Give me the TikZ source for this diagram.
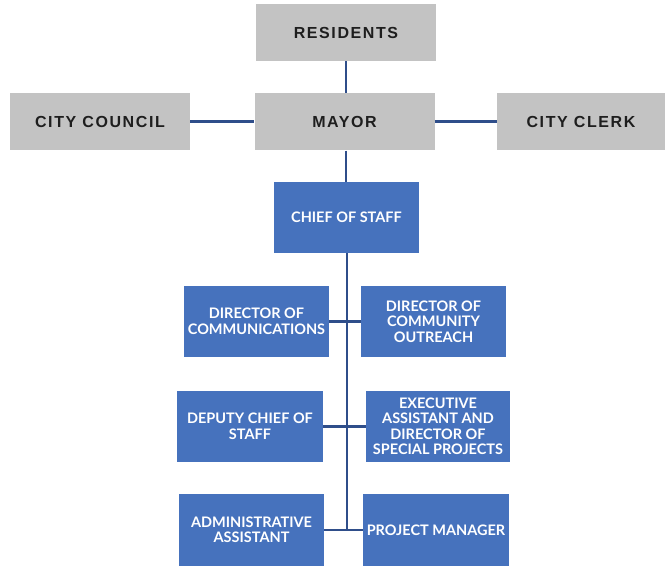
\documentclass[tikz,border=0pt]{standalone}
\usepackage{fontspec}
\setmainfont{Liberation Sans}
\newfontfamily\latofont{Lato}[UprightFont=* Bold]
\newfontfamily\spacedfont{Liberation Sans}[UprightFont=* Bold,LetterSpace=10]
\definecolor{greybox}{HTML}{C3C3C3}
\definecolor{bluebox}{HTML}{4672BD}
\definecolor{linkblue}{HTML}{2F4E8A}
\definecolor{greytext}{HTML}{1E1E1E}
\begin{document}
\begin{tikzpicture}[x=1pt,y=-1pt,
  govbox/.style={fill=greybox,draw=none,minimum height=57pt,inner sep=0pt,
    text=greytext,font=\spacedfont\fontsize{16}{18}\selectfont},
  staffbox/.style={fill=bluebox,draw=none,minimum width=145pt,minimum height=71pt,
    inner sep=0pt,text=white,align=center,font=\latofont\fontsize{14.5}{15.5}\selectfont},
  link/.style={draw=linkblue,line width=2.4pt}]
\useasboundingbox (0,0) rectangle (665,567);

% elected offices
\node[govbox,minimum width=180pt] (res) at (346,32.5) {RESIDENTS};
\node[govbox,minimum width=180pt] (mayor) at (344.5,122) {MAYOR};
\node[govbox,minimum width=180pt] (council) at (100,121.5) {CITY COUNCIL};
\node[govbox,minimum width=168pt] (clerk) at (581,121.5) {CITY CLERK};

% mayor's staff
\node[staffbox] (chief) at (346.5,217.5) {CHIEF OF STAFF};
\node[staffbox] (dcomm) at (256.5,321.5) {DIRECTOR OF\\COMMUNICATIONS};
\node[staffbox] (dout) at (433.5,321.5) {DIRECTOR OF\\COMMUNITY\\OUTREACH};
\node[staffbox,minimum width=146pt] (deputy) at (250,426.5) {DEPUTY CHIEF OF\\STAFF};
\node[staffbox,minimum width=144pt] (exec) at (438,426.5) {EXECUTIVE\\ASSISTANT AND\\DIRECTOR OF\\SPECIAL PROJECTS};
\node[staffbox,minimum height=72pt] (admin) at (251.5,530) {ADMINISTRATIVE\\ASSISTANT};
\node[staffbox,minimum width=146pt,minimum height=72pt] (pm) at (436,530) {PROJECT MANAGER};

\coordinate (trunkend) at (347,530);

% connectors
\draw[link] (res.south -| 346,0) -- (346,0 |- mayor.north);
\draw[link] (council.east) -- (council.east -| mayor.west);
\draw[link] (mayor.east |- clerk.west) -- (clerk.west);
\draw[link] (mayor.south -| 346,0) -- (346,0 |- chief.north);
\draw[link] (chief.south -| trunkend) -- (trunkend);
\draw[link] (dcomm.east) -- (dout.west);
\draw[link] (deputy.east) -- (exec.west);
\draw[link] (admin.east) -- (pm.west);
\end{tikzpicture}
\end{document}
